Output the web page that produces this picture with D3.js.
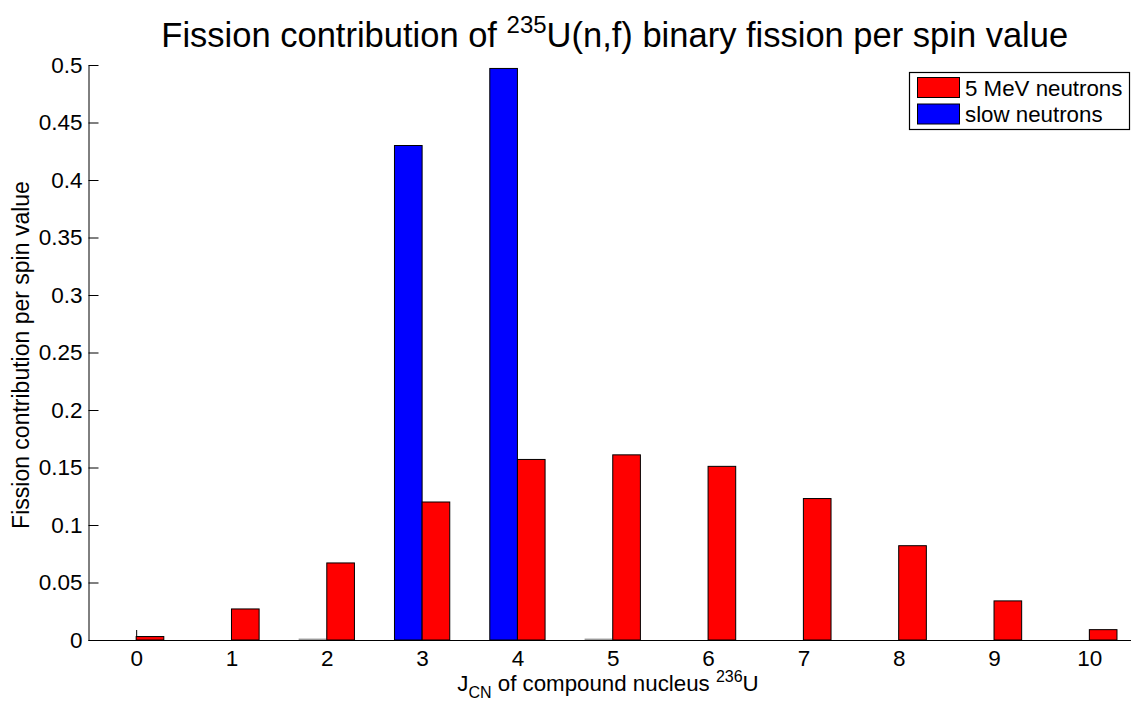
<!DOCTYPE html>
<html>
<head>
<meta charset="utf-8">
<script src="https://cdn.jsdelivr.net/npm/d3@7/dist/d3.min.js"></script>
<style>
  html, body { margin: 0; padding: 0; background: #fff; }
  svg { display: block; font-family: "Liberation Sans", Arial, Helvetica, sans-serif; }
</style>
</head>
<body>
<svg id="chart" width="1131" height="709"></svg>
<script>
// Spin values of the compound nucleus
const spins = [0, 1, 2, 3, 4, 5, 6, 7, 8, 9, 10];
// Fission contribution per spin value, 5 MeV neutrons
const fastValues = [0.003, 0.027, 0.067, 0.120, 0.157, 0.161, 0.151, 0.123, 0.082, 0.034, 0.009];
// Fission contribution per spin value, slow neutrons
const slowValues = [0, 0, 0.0008, 0.430, 0.497, 0.0008, 0, 0, 0, 0, 0];
const seriesNames = ["5 MeV neutrons", "slow neutrons"];
const seriesColors = ["#ff0000", "#0000ff"];
const yTicks = [0, 0.05, 0.1, 0.15, 0.2, 0.25, 0.3, 0.35, 0.4, 0.45, 0.5];
const yTickLabels = ["0", "0.05", "0.1", "0.15", "0.2", "0.25", "0.3", "0.35", "0.4", "0.45", "0.5"];

const svg = d3.select("#chart");
const W = 1131, H = 709;
const x = d3.scaleLinear().domain([-0.5, 10.5]).range([88.5, 1137]);
const y = d3.scaleLinear().domain([0, 0.5]).range([640, 65]);
const barW = 0.29; // width of each bar in spin units
const tickFont = 22.5;

// x ticks (inward), drawn under the bars
const xAxis = svg.append("g")
  .attr("transform", `translate(0,${y(0)})`)
  .call(d3.axisBottom(x).tickValues(spins).tickFormat(d3.format("d"))
    .tickSize(-10).tickSizeOuter(0).tickPadding(10));
xAxis.select(".domain").remove();
xAxis.selectAll(".tick line").attr("stroke", "#000");
xAxis.selectAll("text").attr("font-size", tickFont).attr("fill", "#000")
  .attr("font-family", "Liberation Sans, Arial, sans-serif");

// slow neutrons: left half of each spin slot
svg.append("g").selectAll("rect")
  .data(spins.map((s, i) => ({ s, v: slowValues[i] })))
  .join("rect")
  .attr("x", d => x(d.s - barW))
  .attr("width", d => x(d.s) - x(d.s - barW))
  .attr("y", d => y(d.v))
  .attr("height", d => y(0) - y(d.v))
  .attr("fill", seriesColors[1])
  .attr("stroke", d => d.v < 0.002 ? "#999" : "#000")
  .attr("stroke-width", 1);

// 5 MeV neutrons: right half of each spin slot
svg.append("g").selectAll("rect")
  .data(spins.map((s, i) => ({ s, v: fastValues[i] })))
  .join("rect")
  .attr("x", d => x(d.s))
  .attr("width", d => x(d.s + barW) - x(d.s))
  .attr("y", d => y(d.v))
  .attr("height", d => y(0) - y(d.v))
  .attr("fill", seriesColors[0])
  .attr("stroke", "#000")
  .attr("stroke-width", 1);

// y axis with inward ticks
const yAxis = svg.append("g")
  .attr("transform", `translate(${x(-0.5)},0)`)
  .call(d3.axisLeft(y).tickValues(yTicks)
    .tickFormat((d, i) => yTickLabels[i])
    .tickSize(-10).tickSizeOuter(0).tickPadding(6));
yAxis.select(".domain").attr("stroke", "#000");
yAxis.selectAll(".tick line").attr("stroke", "#000");
yAxis.selectAll("text").attr("font-size", tickFont).attr("fill", "#000")
  .attr("font-family", "Liberation Sans, Arial, sans-serif");

// x axis baseline on top of the bars
svg.append("line")
  .attr("x1", x(-0.5)).attr("x2", W)
  .attr("y1", y(0) + 0.5).attr("y2", y(0) + 0.5)
  .attr("stroke", "#000").attr("stroke-width", 1.2);

// title
const title = svg.append("text")
  .attr("x", (x(-0.5) + x(10.5)) / 2 + 2)
  .attr("y", 47)
  .attr("text-anchor", "middle")
  .attr("font-size", 34.5)
  .attr("fill", "#000");
title.append("tspan").text("Fission contribution of ");
title.append("tspan").attr("font-size", 24).attr("dy", -14).text("235");
title.append("tspan").attr("dy", 14).text("U(n,f) binary fission per spin value");

// x-axis label
const xl = svg.append("text")
  .attr("x", 608)
  .attr("y", 691)
  .attr("text-anchor", "middle")
  .attr("font-size", 22.3)
  .attr("fill", "#000");
xl.append("tspan").text("J");
xl.append("tspan").attr("font-size", 16).attr("dy", 7).text("CN");
xl.append("tspan").attr("dy", -7).text(" of compound nucleus ");
xl.append("tspan").attr("font-size", 16).attr("dy", -9).text("236");
xl.append("tspan").attr("dy", 9).text("U");

// y-axis label
svg.append("text")
  .attr("transform", "translate(28.5,355) rotate(-90)")
  .attr("text-anchor", "middle")
  .attr("font-size", 23)
  .attr("fill", "#000")
  .text("Fission contribution per spin value");

// legend
const lg = svg.append("g");
lg.append("rect")
  .attr("x", 909.5).attr("y", 72.5)
  .attr("width", 220).attr("height", 57)
  .attr("fill", "#fff").attr("stroke", "#000").attr("stroke-width", 1.2);
seriesNames.forEach((name, i) => {
  lg.append("rect")
    .attr("x", 917.5).attr("y", 77.5 + i * 26.5)
    .attr("width", 42).attr("height", 20)
    .attr("fill", seriesColors[i]).attr("stroke", "#000").attr("stroke-width", 1);
  lg.append("text")
    .attr("x", 965).attr("y", 95.5 + i * 26.5)
    .attr("font-size", 22.3)
    .attr("fill", "#000")
    .text(name);
});
</script>
</body>
</html>
